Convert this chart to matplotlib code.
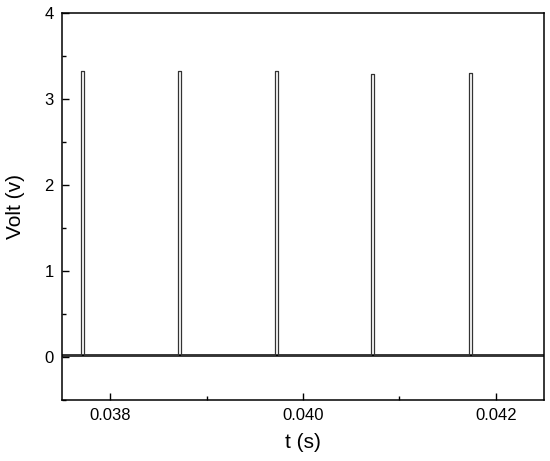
import matplotlib.pyplot as plt
from matplotlib.ticker import MultipleLocator

plt.rcParams["font.family"] = ["Liberation Sans", "DejaVu Sans"]

# pulse train
pulse_start = [0.03770, 0.03870, 0.03971, 0.04071, 0.04172]
pulse_end = [0.03773, 0.03873, 0.03974, 0.04074, 0.04175]
pulse_height = [3.32, 3.32, 3.32, 3.29, 3.30]
baseline = 0.02
t_range = (0.0375, 0.0425)

# build the stepped waveform from the pulse list
t = [t_range[0]]
v = [baseline]
for s, e, h in zip(pulse_start, pulse_end, pulse_height):
    t += [s, s, e, e]
    v += [baseline, h, h, baseline]
t.append(t_range[1])
v.append(baseline)

fig = plt.figure(figsize=(5.5, 4.61), dpi=100)
ax = fig.add_axes([0.1127, 0.1323, 0.8764, 0.8395])

# baseline noise band drawn a bit heavier
ax.plot(t_range, [baseline, baseline], color="black", linewidth=1.8)
ax.plot(t, v, color="#333333", linewidth=0.9)

ax.set_xlim(*t_range)
ax.set_ylim(-0.5, 4)
ax.xaxis.set_major_locator(MultipleLocator(0.002))
ax.xaxis.set_minor_locator(MultipleLocator(0.001))
ax.yaxis.set_major_locator(MultipleLocator(1))
ax.yaxis.set_minor_locator(MultipleLocator(0.5))
ax.xaxis.set_major_formatter(plt.FuncFormatter(lambda x, p: f"{x:.3f}"))
ax.tick_params(which="both", direction="in", top=False, right=False,
               labelsize=12, width=1)
ax.tick_params(which="major", length=5, pad=6)
ax.tick_params(which="minor", length=3)
for sp in ax.spines.values():
    sp.set_linewidth(1.1)

ax.set_xlabel("t (s)", fontsize=15, labelpad=7)
ax.set_ylabel("Volt (v)", fontsize=15, labelpad=14)

fig.savefig("out.png", dpi=100)
